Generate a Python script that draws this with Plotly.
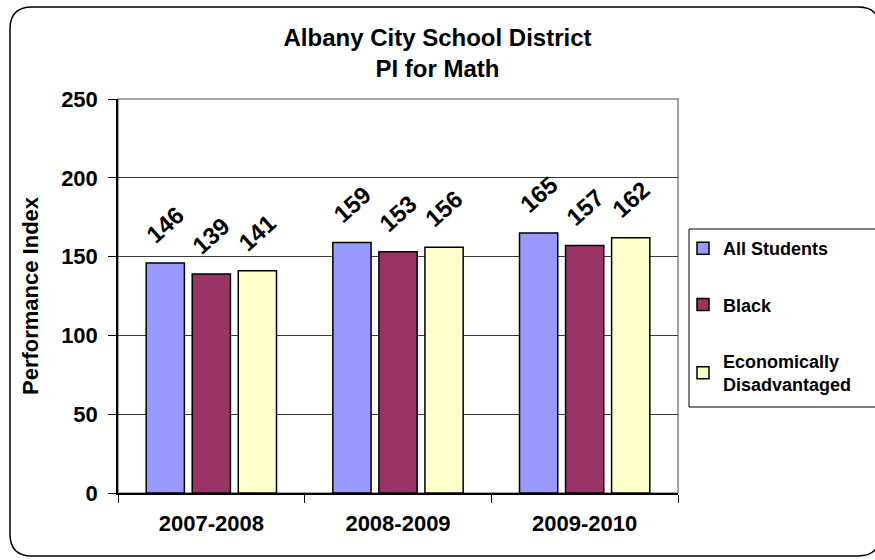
import plotly.graph_objects as go

years = ["2007-2008", "2008-2009", "2009-2010"]
series_names = ["All Students", "Black", "Economically<br>Disadvantaged"]
all_students = [146, 159, 165]
black = [139, 153, 157]
econ_dis = [141, 156, 162]
colors = ["#9999FF", "#993366", "#FFFFCC"]
y_ticks = [0, 50, 100, 150, 200, 250]

W, H = 875, 560
L, R, T, B = 118, 197, 99, 67
PW, PH = W - L - R, H - T - B
BARGAP = 0.26
BARGROUPGAP = 0.17

FONT = "Liberation Sans, Arial, sans-serif"

fig = go.Figure()
values = [all_students, black, econ_dis]
for name, vals, col in zip(series_names, values, colors):
    fig.add_trace(go.Bar(
        x=years, y=vals, name=name, legendgroup=name,
        marker=dict(color=col, line=dict(color="black", width=1.5)),
    ))

# data labels (rotated), positioned at each bar's slot
n = len(values)
slot = (1 - BARGAP) / n
for j, vals in enumerate(values):
    for i, v in enumerate(vals):
        fig.add_annotation(
            x=i + (j - (n - 1) / 2) * slot, y=v, xref="x", yref="y",
            text=str(v), showarrow=False, textangle=-42,
            xanchor="center", yanchor="bottom", yshift=12,
            font=dict(family=FONT, size=24, color="black", weight="bold"),
        )

def px(x):
    return (x - L) / PW

def py(y):
    return (H - B - y) / PH

# outer rounded border (right side runs off the picture)
x0, x1, y0, y1, r = 10, 880, 7, 556, 22
path = (
    f"M {px(x0 + r)} {py(y0)} L {px(x1 - r)} {py(y0)} "
    f"Q {px(x1)} {py(y0)} {px(x1)} {py(y0 + r)} "
    f"L {px(x1)} {py(y1 - r)} Q {px(x1)} {py(y1)} {px(x1 - r)} {py(y1)} "
    f"L {px(x0 + r)} {py(y1)} Q {px(x0)} {py(y1)} {px(x0)} {py(y1 - r)} "
    f"L {px(x0)} {py(y0 + r)} Q {px(x0)} {py(y0)} {px(x0 + r)} {py(y0)} Z"
)
fig.add_shape(type="path", path=path, xref="paper", yref="paper",
              line=dict(color="black", width=1.5), layer="below")
# plot area border
fig.add_shape(type="rect", x0=0, x1=1, y0=0, y1=1, xref="paper", yref="paper",
              line=dict(color="#888888", width=1.5), layer="below")
# legend frame (extends past the right edge)
fig.add_shape(type="rect", x0=px(689), x1=px(900), y0=py(229), y1=py(407),
              xref="paper", yref="paper",
              line=dict(color="black", width=1), fillcolor="white", layer="below")

fig.update_layout(
    width=W, height=H,
    margin=dict(l=L, r=R, t=T, b=B),
    paper_bgcolor="white", plot_bgcolor="white",
    barmode="group", bargap=BARGAP, bargroupgap=BARGROUPGAP,
    font=dict(family=FONT, color="black"),
    title=dict(
        text="Albany City School District<br>PI for Math",
        x=0.5, xref="container", xanchor="center",
        y=1 - 46 / H, yref="container", yanchor="middle",
        font=dict(family=FONT, size=24, color="black", weight="bold"),
    ),
    legend=dict(
        x=px(683), y=py(230), xanchor="left", yanchor="top",
        borderwidth=0, bgcolor="rgba(0,0,0,0)",
        font=dict(family=FONT, size=18, color="black", weight="bold"),
        traceorder="grouped", tracegroupgap=30,
        itemclick=False,
    ),
    showlegend=True,
)

fig.update_xaxes(
    type="category", tickson="boundaries", ticks="outside", ticklen=8,
    tickcolor="black", showline=True, linecolor="black", linewidth=1.5,
    showgrid=False, ticklabelstandoff=10, automargin=False,
    tickfont=dict(family=FONT, size=22, color="black", weight="bold"),
)
fig.update_yaxes(
    range=[0, 250], tickvals=y_ticks, ticks="outside", ticklen=8,
    tickcolor="black", showline=True, linecolor="black", linewidth=1.5,
    showgrid=True, gridcolor="#3a3a3a", gridwidth=1.2, zeroline=False,
    ticklabelstandoff=6, automargin=False,
    tickfont=dict(family=FONT, size=22, color="black", weight="bold"),
    title=dict(text="Performance Index", standoff=16,
               font=dict(family=FONT, size=22, color="black", weight="bold")),
)

fig.write_html("out.html", config={"displayModeBar": False},
               post_script="document.body.style.margin='0';")
